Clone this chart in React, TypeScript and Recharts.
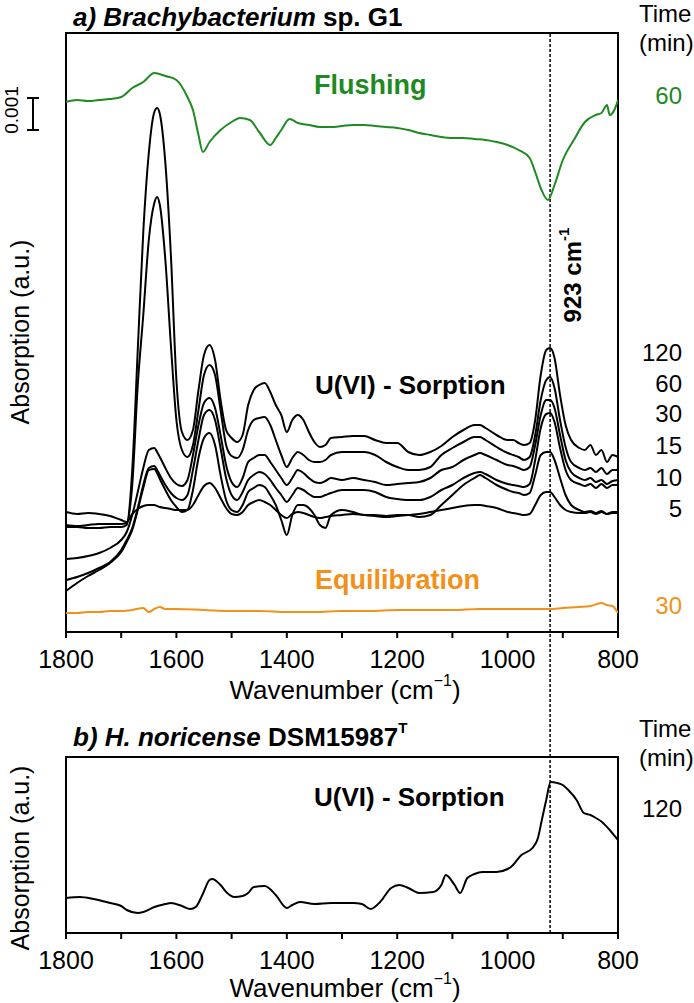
import React from "react";
import { LineChart, Line, XAxis, YAxis, ReferenceArea, ReferenceLine } from "recharts";

// wavenumbers (cm-1) shared by the sorption spectra
const WN = [
  1800, 1780, 1760, 1740, 1720, 1700, 1690, 1680, 1670, 1660,
  1650, 1640, 1635, 1630, 1620, 1610, 1600, 1590, 1580, 1570,
  1560, 1550, 1540, 1530, 1520, 1510, 1500, 1490, 1480, 1470,
  1460, 1450, 1440, 1430, 1420, 1410, 1400, 1390, 1380, 1370,
  1360, 1350, 1340, 1330, 1320, 1300, 1280, 1260, 1240, 1220,
  1200, 1180, 1160, 1140, 1120, 1100, 1080, 1060, 1050, 1040,
  1020, 1000, 990, 980, 970, 960, 950, 940, 930, 923,
  915, 905, 895, 885, 870, 860, 850, 840, 830, 820,
  810, 800,
];

// absorption (a.u., stacked offsets) for each sorption time
const SORB_120 = [
  105, 105, 104, 104, 105, 105, 107, 162, 282, 400,
  479, 520, 524, 518, 469, 377, 252, 200, 192, 202,
  242, 277, 287, 272, 232, 202, 194, 190, 197, 227,
  242, 247, 249, 240, 227, 217, 200, 212, 217, 212,
  200, 190, 185, 187, 194, 195, 196, 196, 192, 189,
  189, 180, 177, 180, 186, 195, 202, 207, 207, 204,
  197, 192, 192, 189, 187, 189, 212, 257, 282, 284,
  274, 237, 207, 192, 184, 182, 187, 177, 182, 170,
  177, 175,
];
const SORB_60 = [
  107, 106, 107, 108, 108, 108, 109, 147, 247, 317,
  392, 429, 435, 427, 372, 287, 212, 182, 175, 187,
  222, 257, 267, 257, 222, 187, 176, 174, 182, 202,
  212, 214, 215, 207, 192, 177, 165, 174, 180, 177,
  172, 170, 170, 172, 177, 180, 180, 180, 177, 170,
  165, 162, 162, 165, 177, 184, 190, 195, 195, 192,
  185, 179, 177, 175, 172, 175, 197, 232, 252, 255,
  244, 212, 185, 170, 164, 162, 164, 160, 164, 158,
  162, 162,
];
const SORB_30 = [
  73, 74, 76, 79, 84, 92, 100, 117, 140, 164,
  182, 184, 180, 175, 164, 154, 148, 146, 152, 177,
  207, 229, 234, 224, 197, 167, 150, 145, 154, 170,
  174, 177, 177, 170, 162, 154, 147, 154, 162, 159,
  154, 150, 149, 151, 154, 152, 154, 152, 150, 147,
  148, 149, 150, 154, 162, 165, 172, 177, 179, 177,
  172, 167, 166, 164, 162, 165, 187, 217, 232, 232,
  224, 197, 172, 160, 154, 152, 154, 150, 152, 148,
  151, 152,
];
const SORB_15 = [
  52, 55, 59, 64, 70, 82, 92, 104, 124, 147,
  164, 166, 162, 157, 147, 139, 134, 132, 137, 162,
  192, 217, 222, 212, 184, 154, 137, 132, 140, 152,
  157, 160, 158, 152, 144, 137, 130, 137, 144, 142,
  138, 135, 135, 137, 139, 142, 142, 142, 140, 135,
  133, 132, 132, 135, 142, 147, 154, 159, 160, 158,
  152, 148, 147, 146, 145, 148, 172, 204, 218, 219,
  210, 184, 162, 152, 148, 146, 148, 144, 148, 144,
  147, 147,
];
const SORB_10 = [
  41, 49, 56, 62, 69, 80, 90, 102, 122, 144,
  162, 163, 159, 153, 142, 132, 125, 120, 122, 142,
  174, 194, 199, 187, 157, 132, 122, 120, 127, 140,
  144, 147, 145, 137, 127, 112, 97, 117, 127, 127,
  124, 117, 107, 104, 117, 122, 120, 117, 117, 116,
  117, 117, 115, 117, 127, 137, 147, 154, 157, 154,
  147, 142, 140, 139, 137, 139, 157, 177, 180, 180,
  172, 154, 137, 127, 122, 120, 121, 119, 121, 118,
  120, 120,
];
const SORB_5 = [
  120, 118, 119, 118, 116, 112, 110, 118, 123, 126,
  127, 127, 126, 125, 124, 123, 122, 122, 122, 127,
  137, 146, 149, 144, 134, 124, 118, 117, 120, 127,
  130, 132, 130, 127, 122, 117, 114, 118, 120, 119,
  117, 115, 114, 115, 116, 117, 118, 117, 116, 115,
  116, 117, 118, 120, 122, 124, 126, 127, 127, 126,
  124, 120, 119, 118, 117, 118, 127, 137, 140, 140,
  135, 127, 122, 120, 119, 119, 120, 118, 120, 118,
  119, 119,
];

const FLUSH_WN = [
  1800, 1780, 1760, 1740, 1720, 1700, 1680, 1660, 1640, 1620,
  1600, 1580, 1570, 1560, 1552, 1540, 1520, 1500, 1485, 1467,
  1450, 1430, 1420, 1410, 1395, 1380, 1360, 1340, 1320, 1300,
  1280, 1260, 1240, 1220, 1200, 1180, 1160, 1140, 1120, 1100,
  1080, 1060, 1040, 1020, 1000, 980, 960, 950, 940, 927,
  915, 900, 880, 860, 840, 830, 820, 815, 805, 800,
];
const FLUSH_ABS = [
  530, 532, 531, 532, 533, 535, 544, 550, 559, 556,
  552, 535, 522, 497, 480, 490, 502, 510, 514, 512,
  500, 487, 494, 502, 513, 509, 507, 505, 505, 506,
  507, 507, 506, 505, 504, 502, 499, 497, 495, 494,
  494, 493, 492, 490, 487, 482, 474, 460, 444, 432,
  447, 472, 492, 510, 517, 519, 527, 517, 524, 532,
];

const EQUIL_WN = [
  1800, 1780, 1760, 1740, 1720, 1700, 1680, 1660, 1650, 1640,
  1630, 1620, 1600, 1550, 1500, 1450, 1400, 1350, 1300, 1250,
  1200, 1150, 1100, 1050, 1000, 950, 923, 900, 870, 850,
  830, 820, 810, 800,
];
const EQUIL_ABS = [
  19, 19, 20, 20, 21, 21, 22, 24, 20, 23,
  25, 23, 23, 22, 21, 21, 20, 20, 21, 21,
  22, 22, 22, 23, 23, 23, 23, 24, 25, 26,
  29, 27, 26, 19,
];

// b) H. noricense, 120 min
const NORI_WN = [
  1800, 1775, 1750, 1720, 1700, 1690, 1670, 1660, 1640, 1620,
  1610, 1590, 1575, 1565, 1553, 1540, 1535, 1520, 1508, 1495,
  1480, 1470, 1460, 1440, 1420, 1400, 1390, 1376, 1350, 1320,
  1300, 1280, 1264, 1248, 1231, 1211, 1196, 1180, 1160, 1135,
  1120, 1112, 1096, 1086, 1073, 1060, 1046, 1020, 1000, 994,
  975, 955, 945, 938, 930, 922, 910, 900, 890, 875,
  862, 850, 840, 829, 815, 803, 800,
];
const NORI_ABS = [
  35, 36, 34, 30, 27, 23, 20, 21, 26, 29,
  30, 27, 24, 26, 38, 53, 54, 48, 40, 36,
  37, 40, 46, 47, 38, 25, 28, 31, 29, 30,
  30, 30, 29, 24, 31, 45, 48, 45, 40, 41,
  48, 58, 48, 40, 55, 59, 61, 61, 64, 66,
  78, 85, 95, 113, 133, 151, 150, 148, 143, 133,
  120, 118, 115, 111, 103, 95, 93,
];

const X_TICKS = [800, 900, 1000, 1100, 1200, 1300, 1400, 1500, 1600, 1700, 1800];
const UO2_BAND = 923;

const FONT = '"Liberation Sans", Arial, sans-serif';
const GREEN = "#1f8a22";
const ORANGE = "#f39019";

const pts = (xs: number[], ys: number[]) => xs.map((wn, i) => ({ wn, v: ys[i] }));

const sorption = [
  { time: "120", values: SORB_120 },
  { time: "60", values: SORB_60 },
  { time: "30", values: SORB_30 },
  { time: "15", values: SORB_15 },
  { time: "10", values: SORB_10 },
  { time: "5", values: SORB_5 },
];

const tickFmt = (v: number) => (v % 200 === 0 ? String(v) : "");

const xAxisProps = {
  type: "number" as const,
  dataKey: "wn",
  domain: [800, 1800],
  reversed: true,
  ticks: X_TICKS,
  interval: 0,
  tickFormatter: tickFmt,
  tick: { fontSize: 25, fill: "#000", fontFamily: FONT },
  tickLine: { stroke: "#000", strokeWidth: 2 },
  axisLine: { stroke: "#000", strokeWidth: 2 },
  tickSize: 6,
  tickMargin: 12,
  height: 30,
  allowDataOverflow: true,
};

const TOP_MAX = 599;
const BOT_MAX = 176;

const TopChart = () => (
  <LineChart width={694} height={760} margin={{ top: 33, right: 76, bottom: 98, left: 66 }}>
    <XAxis {...xAxisProps} />
    <YAxis hide type="number" domain={[0, TOP_MAX]} allowDataOverflow />
    <ReferenceLine
      segment={[{ x: UO2_BAND, y: -125 }, { x: UO2_BAND, y: TOP_MAX }]}
      ifOverflow="visible"
      stroke="#000"
      strokeWidth={1.5}
      strokeDasharray="3 2"
    />
    <Line data={pts(EQUIL_WN, EQUIL_ABS)} dataKey="v" type="monotone" stroke={ORANGE} strokeWidth={2} dot={false} isAnimationActive={false} />
    <Line data={pts(FLUSH_WN, FLUSH_ABS)} dataKey="v" type="monotone" stroke={GREEN} strokeWidth={2} dot={false} isAnimationActive={false} />
    {sorption.map((s) => (
      <Line key={s.time} data={pts(WN, s.values)} dataKey="v" type="monotone" stroke="#000" strokeWidth={2} dot={false} isAnimationActive={false} />
    ))}
    <ReferenceArea x1={800} x2={1800} y1={0} y2={TOP_MAX} fill="none" stroke="#000" strokeWidth={2} ifOverflow="visible" />
  </LineChart>
);

const BottomChart = () => (
  <LineChart width={694} height={303} margin={{ top: 57, right: 76, bottom: 40, left: 66 }}>
    <XAxis {...xAxisProps} />
    <YAxis hide type="number" domain={[0, BOT_MAX]} allowDataOverflow />
    <ReferenceLine x={UO2_BAND} stroke="#000" strokeWidth={1.5} strokeDasharray="3 2" />
    <Line data={pts(NORI_WN, NORI_ABS)} dataKey="v" type="monotone" stroke="#000" strokeWidth={2} dot={false} isAnimationActive={false} />
    <ReferenceArea x1={800} x2={1800} y1={0} y2={BOT_MAX} fill="none" stroke="#000" strokeWidth={2} ifOverflow="visible" />
  </LineChart>
);

const timeLabelY = [352, 383, 413, 445, 477, 508];

const Annotations = () => (
  <svg width={694} height={1003} style={{ position: "absolute", left: 0, top: 0, pointerEvents: "none" }} fontFamily={FONT}>
    {/* panel a */}
    <text x={73} y={17} dominantBaseline="central" fontSize={26} fontWeight="bold">
      <tspan fontStyle="italic">a) Brachybacterium</tspan> sp. G1
    </text>
    <text x={639} y={13} dominantBaseline="central" fontSize={24}>Time</text>
    <text x={639} y={42} dominantBaseline="central" fontSize={24}>(min)</text>
    <line x1={33} x2={33} y1={98} y2={130} stroke="#000" strokeWidth={2} />
    <line x1={27} x2={39} y1={98} y2={98} stroke="#000" strokeWidth={2} />
    <line x1={27} x2={39} y1={130} y2={130} stroke="#000" strokeWidth={2} />
    <text transform="translate(11,110) rotate(-90)" textAnchor="middle" dominantBaseline="central" fontSize={19}>0.001</text>
    <text x={314} y={85} dominantBaseline="central" fontSize={27} fontWeight="bold" fill={GREEN}>Flushing</text>
    <text x={682} y={95} textAnchor="end" dominantBaseline="central" fontSize={24} fill={GREEN}>60</text>
    <text transform="translate(572,275) rotate(-90)" textAnchor="middle" dominantBaseline="central" fontSize={24} fontWeight="bold">
      923 cm<tspan dy={-9} fontSize={15}>-1</tspan>
    </text>
    <text x={315} y={385} dominantBaseline="central" fontSize={26} fontWeight="bold">U(VI) - Sorption</text>
    {sorption.map((s, i) => (
      <text key={s.time} x={682} y={timeLabelY[i]} textAnchor="end" dominantBaseline="central" fontSize={24}>{s.time}</text>
    ))}
    <text x={315} y={580} dominantBaseline="central" fontSize={27} fontWeight="bold" fill={ORANGE}>Equilibration</text>
    <text x={682} y={605} textAnchor="end" dominantBaseline="central" fontSize={24} fill={ORANGE}>30</text>
    <text transform="translate(20,332) rotate(-90)" textAnchor="middle" dominantBaseline="central" fontSize={25}>Absorption (a.u.)</text>
    <text x={345} y={690} textAnchor="middle" dominantBaseline="central" fontSize={26}>
      Wavenumber (cm<tspan dy={-10} fontSize={16}>−1</tspan><tspan dy={10}>)</tspan>
    </text>

    {/* panel b */}
    <text x={73} y={737} dominantBaseline="central" fontSize={26} fontWeight="bold">
      <tspan fontStyle="italic">b) H. noricense</tspan> DSM15987<tspan dy={-10} fontSize={15}>T</tspan>
    </text>
    <text x={639} y={728} dominantBaseline="central" fontSize={24}>Time</text>
    <text x={639} y={757} dominantBaseline="central" fontSize={24}>(min)</text>
    <text x={314} y={797} dominantBaseline="central" fontSize={26} fontWeight="bold">U(VI) - Sorption</text>
    <text x={682} y={808} textAnchor="end" dominantBaseline="central" fontSize={24}>120</text>
    <text transform="translate(20,858) rotate(-90)" textAnchor="middle" dominantBaseline="central" fontSize={25}>Absorption (a.u.)</text>
    <text x={345} y={988} textAnchor="middle" dominantBaseline="central" fontSize={26}>
      Wavenumber (cm<tspan dy={-10} fontSize={16}>−1</tspan><tspan dy={10}>)</tspan>
    </text>
  </svg>
);

export default function App() {
  return (
    <div style={{ position: "absolute", left: 0, top: 0, width: 694, height: 1003, background: "#fff", fontFamily: FONT }}>
      <div style={{ position: "absolute", left: 0, top: 0 }}>
        <TopChart />
      </div>
      <div style={{ position: "absolute", left: 0, top: 700 }}>
        <BottomChart />
      </div>
      <Annotations />
    </div>
  );
}
